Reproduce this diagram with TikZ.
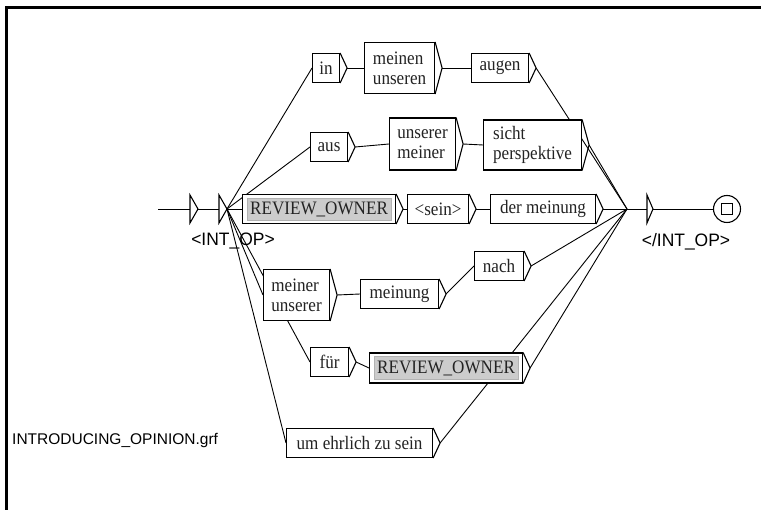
\documentclass[tikz,border=0pt]{standalone}
\usepackage{fontspec}
\setmainfont{Liberation Serif}[FakeStretch=0.9]
\newfontfamily\labelfont{Liberation Sans}[FakeStretch=0.97]
\newfontfamily\filefont{Liberation Sans}
\usetikzlibrary{calc}
\pgfdeclarelayer{wires}
\pgfsetlayers{wires,main}
\definecolor{callgray}{RGB}{204,204,204}
\definecolor{boxtext}{RGB}{35,35,35}

\begin{document}
\begin{tikzpicture}[x=1pt,y=-1pt,
  every node/.style={inner sep=0pt},
  boxline/.style={line width=1.1pt, line join=miter},
  wire/.style={line width=0.9pt},
  gbox/.style={draw, boxline, fill=white, anchor=west, align=left,
    text=boxtext, font=\fontsize{19}{20}\selectfont,
    minimum height=29pt, inner xsep=6pt},
  callbox/.style={gbox, path picture={
    \fill[callgray, draw=gray!60, line width=0.5pt]
      ($(path picture bounding box.south west)+(4.5pt,3.5pt)$) rectangle
      ($(path picture bounding box.north east)+(-4.5pt,-3.5pt)$);}},
  sans/.style={font=\labelfont\fontsize{18}{20}\selectfont},
]
\useasboundingbox (0,0) rectangle (761,510);

% window frame
\draw[line width=2.6pt] (6.5,510) -- (6.5,7.5) -- (761,7.5);

% file name
\node[anchor=west, font=\filefont\fontsize{15.5}{18}\selectfont] (fname) at (12,441) {INTRODUCING\_OPINION.grf};

% initial state and the <INT_OP> output box
\coordinate (entry) at (158,209);
\coordinate (s0-in) at (190,209);
\coordinate (s0-out) at (198,209);
\coordinate (op-in) at (219,209);
\coordinate (fan) at (227,209);
\draw[boxline] (190,195) -- (190,223) -- (s0-out) -- cycle;
\draw[boxline] (219,195) -- (219,223) -- (fan) -- cycle;
\node[sans] (lbl-open) at (233,241) {<INT\_OP>};

% closing output box and final state
\coordinate (merge) at (627,209);
\coordinate (cl-in) at (647,209);
\coordinate (cl-out) at (653,209);
\draw[boxline] (647,195) -- (647,223) -- (cl-out) -- cycle;
\node[sans] (lbl-close) at (686,242) {</INT\_OP>};
\node[circle, draw, boxline, minimum size=27pt] (final) at (727,209) {};
\node[draw, boxline, minimum size=11pt] (final-sq) at (final) {};

% boxes
\node[gbox, minimum width=27pt]  (b-in)      at (312,68)  {in};
\node[gbox, minimum width=70pt, minimum height=51pt] (b-meinen) at (364,68) {meinen\\unseren};
\node[gbox, minimum width=57pt]  (b-augen)   at (471,68)  {augen};

\node[gbox, minimum width=37pt]  (b-aus)     at (310,147) {aus};
\node[gbox, minimum width=66pt, minimum height=52pt] (b-unserer) at (389,144) {unserer\\meiner};
\node[gbox, minimum width=98pt, minimum height=50pt] (b-sicht) at (483,145) {sicht\\perspektive};

\node[callbox, minimum width=153pt] (b-ro)   at (242,209) {REVIEW\_OWNER};
\node[gbox, minimum width=61pt]  (b-sein)    at (407,209) {<sein>};
\node[gbox, minimum width=105pt] (b-derm)    at (490,209) {der meinung};

\node[gbox, minimum width=66pt, minimum height=51pt] (b-meiner) at (263,295) {meiner\\unserer};
\node[gbox, minimum width=78pt]  (b-meinung) at (360,294) {meinung};
\node[gbox, minimum width=49pt]  (b-nach)    at (474,266) {nach};

\node[gbox, minimum width=38pt]  (b-fuer)    at (310,362) {für};
\node[callbox, minimum width=153pt, minimum height=30pt] (b-ro2) at (369,368) {REVIEW\_OWNER};

\node[gbox, minimum width=146pt] (b-um)      at (286,443) {um ehrlich zu sein};

% output chevrons
\foreach \n in {b-in,b-meinen,b-augen,b-aus,b-unserer,b-sicht,b-ro,b-sein,b-derm,
                b-meiner,b-meinung,b-nach,b-fuer,b-ro2,b-um}{
  \coordinate (\n-o) at ($(\n.east)+(7pt,0pt)$);
  \draw[boxline] (\n.north east) -- (\n-o) -- (\n.south east);
}

% transitions
\begin{pgfonlayer}{wires}
  \draw[wire] (entry) -- (s0-in);
  \draw[wire] (s0-out) -- (op-in);
  \foreach \t in {b-in,b-aus,b-ro,b-meiner,b-fuer,b-um}
    \draw[wire] (fan) -- (\t.west);
  \draw[wire] (b-in-o) -- (b-meinen.west);
  \draw[wire] (b-meinen-o) -- (b-augen.west);
  \draw[wire] (b-aus-o) -- (b-unserer.west);
  \draw[wire] (b-unserer-o) -- (b-sicht.west);
  \draw[wire] (b-ro-o) -- (b-sein.west);
  \draw[wire] (b-sein-o) -- (b-derm.west);
  \draw[wire] (b-meiner-o) -- (b-meinung.west);
  \draw[wire] (b-meinung-o) -- (b-nach.west);
  \draw[wire] (b-fuer-o) -- (b-ro2.west);
  \foreach \s in {b-augen,b-sicht,b-derm,b-nach,b-ro2,b-um}
    \draw[wire] (\s-o) -- (merge);
  \draw[wire] (merge) -- (cl-in);
  \draw[wire] (cl-out) -- (final.west);
\end{pgfonlayer}
\end{tikzpicture}
\end{document}
